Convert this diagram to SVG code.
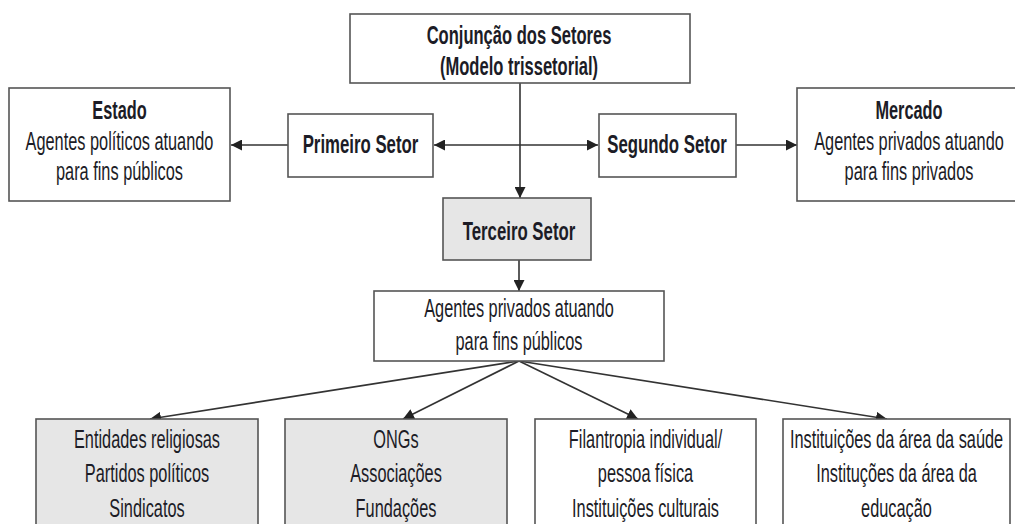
<svg xmlns="http://www.w3.org/2000/svg" width="1015" height="524" viewBox="0 0 1015 524">
<defs>
<style>
.box{fill:#ffffff;stroke:#555555;stroke-width:1.6}
.gray{fill:#e6e6e6;stroke:#555555;stroke-width:1.6}
.t{font-family:"Liberation Sans",Arial,sans-serif;font-size:25px;fill:#1c1c26;text-anchor:middle}
.b{font-weight:bold}
.ln{stroke:#333333;stroke-width:1.6;fill:none}
</style>
<marker id="ah" viewBox="0 0 10 10" refX="10" refY="5" markerWidth="11" markerHeight="11" markerUnits="userSpaceOnUse" orient="auto-start-reverse">
<path d="M0,0 L10,5 L0,10 z" fill="#222222"/>
</marker>
</defs>
<rect width="1015" height="524" fill="#ffffff"/>

<g id="connectors">
<line class="ln" x1="288" y1="145" x2="231" y2="145" marker-end="url(#ah)"/>
<line class="ln" x1="736" y1="145" x2="797" y2="145" marker-end="url(#ah)"/>
<line class="ln" x1="434" y1="145" x2="598" y2="145" marker-start="url(#ah)" marker-end="url(#ah)"/>
<line class="ln" x1="520" y1="83" x2="520" y2="198" marker-end="url(#ah)"/>
<line class="ln" x1="519" y1="260" x2="519" y2="291" marker-end="url(#ah)"/>
<line class="ln" x1="519" y1="361" x2="150" y2="419" marker-end="url(#ah)"/>
<line class="ln" x1="519" y1="361" x2="403" y2="419" marker-end="url(#ah)"/>
<line class="ln" x1="519" y1="361" x2="638" y2="419" marker-end="url(#ah)"/>
<line class="ln" x1="519" y1="361" x2="887" y2="419" marker-end="url(#ah)"/>
</g>

<g id="conjuncao">
<rect class="box" x="350" y="14" width="340" height="69"/>
<text class="t b" transform="translate(519 0) scale(0.662 1)"><tspan x="0" y="44">Conjunção dos Setores</tspan><tspan x="0" y="75">(Modelo trissetorial)</tspan></text>
</g>

<g id="estado">
<rect class="box" x="9" y="88" width="221" height="113"/>
<text class="t" transform="translate(119.5 0) scale(0.653 1)"><tspan class="b" x="0" y="119">Estado</tspan><tspan x="0" y="150">Agentes políticos atuando</tspan><tspan x="0" y="180">para fins públicos</tspan></text>
</g>

<g id="mercado">
<rect class="box" x="797" y="88" width="222" height="113"/>
<text class="t" transform="translate(909 0) scale(0.653 1)"><tspan class="b" x="0" y="119">Mercado</tspan><tspan x="0" y="150">Agentes privados atuando</tspan><tspan x="0" y="180">para fins privados</tspan></text>
</g>

<g id="primeiro">
<rect class="box" x="288" y="114" width="145" height="63"/>
<text class="t b" transform="translate(360.5 0) scale(0.672 1)"><tspan x="0" y="153">Primeiro Setor</tspan></text>
</g>

<g id="segundo">
<rect class="box" x="599" y="114" width="137" height="63"/>
<text class="t b" transform="translate(667 0) scale(0.672 1)"><tspan x="0" y="153">Segundo Setor</tspan></text>
</g>

<g id="terceiro">
<rect class="gray" x="443" y="198" width="148" height="62"/>
<text class="t b" transform="translate(519 0) scale(0.672 1)"><tspan x="0" y="240">Terceiro Setor</tspan></text>
</g>

<g id="agentes">
<rect class="box" x="374" y="291" width="290" height="70"/>
<text class="t" transform="translate(519 0) scale(0.653 1)"><tspan x="0" y="317">Agentes privados atuando</tspan><tspan x="0" y="350">para fins públicos</tspan></text>
</g>

<g id="entidades">
<rect class="gray" x="36" y="419" width="222" height="120"/>
<text class="t" transform="translate(147 0) scale(0.653 1)"><tspan x="0" y="448">Entidades religiosas</tspan><tspan x="0" y="482">Partidos políticos</tspan><tspan x="0" y="517">Sindicatos</tspan></text>
</g>

<g id="ongs">
<rect class="gray" x="285" y="419" width="222" height="120"/>
<text class="t" transform="translate(396 0) scale(0.653 1)"><tspan x="0" y="448">ONGs</tspan><tspan x="0" y="482">Associações</tspan><tspan x="0" y="517">Fundações</tspan></text>
</g>

<g id="filantropia">
<rect class="box" x="535" y="419" width="221" height="120"/>
<text class="t" transform="translate(645.5 0) scale(0.653 1)"><tspan x="0" y="448">Filantropia individual/</tspan><tspan x="0" y="482">pessoa física</tspan><tspan x="0" y="517">Instituições culturais</tspan></text>
</g>

<g id="instituicoes">
<rect class="box" x="783" y="419" width="227" height="120"/>
<text class="t" transform="translate(896.5 0) scale(0.653 1)"><tspan x="0" y="448">Instituições da área da saúde</tspan><tspan x="0" y="482">Instituções da área da</tspan><tspan x="0" y="517">educação</tspan></text>
</g>
</svg>
